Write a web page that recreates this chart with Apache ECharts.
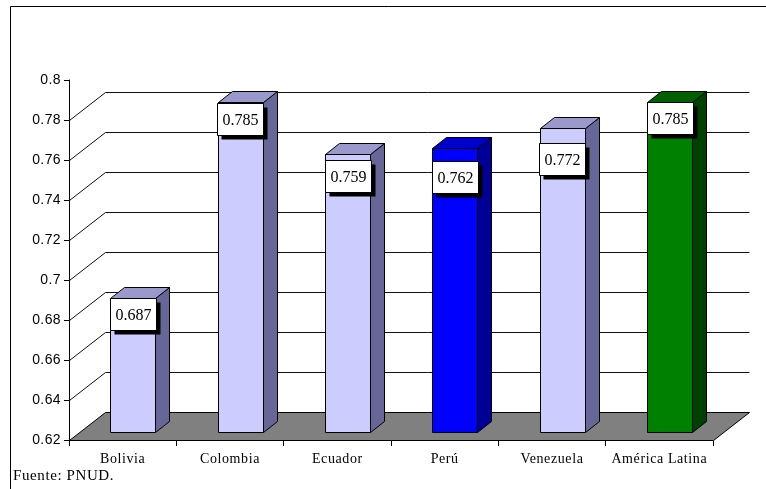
<!DOCTYPE html>
<html>
<head>
<meta charset="utf-8">
<script src="https://cdn.jsdelivr.net/npm/echarts@6/dist/echarts.min.js"></script>
<style>
  html, body { margin: 0; padding: 0; background: #fff; }
  #chart { width: 766px; height: 489px; }
</style>
</head>
<body>
<div id="chart"></div>
<script>
// ---- data ----
const categories = ['Bolivia', 'Colombia', 'Ecuador', 'Perú', 'Venezuela', 'América Latina'];
const idhValues = [0.687, 0.785, 0.759, 0.762, 0.772, 0.785];
const yTicks = [0.62, 0.64, 0.66, 0.68, 0.70, 0.72, 0.74, 0.76, 0.78, 0.80];
const sourceNote = 'Fuente: PNUD.';

// ---- text tracking: spaced serif captions, slightly spaced axis numbers ----
(function () {
  const proto = CanvasRenderingContext2D.prototype;
  const fill = proto.fillText;
  proto.fillText = function (t, x, y, m) {
    if ('letterSpacing' in this) {
      const f = this.font || '';
      let s = '0px';
      if (/Serif/.test(f)) s = /\b16px\b/.test(f) ? '0px' : '0.6px';
      else if (/\b14px\b/.test(f)) s = '0.4px';
      this.letterSpacing = s;
    }
    return m === undefined ? fill.call(this, t, x, y) : fill.call(this, t, x, y, m);
  };
})();

// ---- 3D look ----
const SERIF = "'Liberation Serif', 'Times New Roman', serif";
const SANS = "'Liberation Sans', Arial, sans-serif";
const Y_MIN = yTicks[0];
const Y_MAX = yTicks[yTicks.length - 1];
const WALL = { dx: 36, dy: 28 };          // depth of floor / back wall
const BAR_INSET = 8 / 28;                 // front face sits this far into the floor
const BAR_DEPTH = { dx: 14, dy: 11 };
const BAR_WIDTH = 0.415;                  // share of the category band
const labelNudge = [0, 1, 6, 13, 15, 0];  // label box offsets below the bar top
const BOX = { w: 46, h: 32, shadow: 4 };

const lavender = { face: '#CCCCFF', side: '#666699', top: '#9999CC' };
const blue = { face: '#0000FF', side: '#000099', top: '#0000CC' };
const green = { face: '#008000', side: '#004000', top: '#006000' };
const barColors = [lavender, lavender, lavender, blue, lavender, green];

const crisp = v => Math.round(v) + 0.5;

function renderFloor(params, api) {
  const cs = params.coordSys;
  const y = crisp(api.coord([0, Y_MIN])[1]);
  const x0 = crisp(cs.x), x1 = crisp(cs.x + cs.width);
  return {
    type: 'polygon',
    shape: { points: [[x0, y], [x1, y], [x1 + WALL.dx, y - WALL.dy], [x0 + WALL.dx, y - WALL.dy]] },
    style: { fill: '#808080', stroke: '#000', lineWidth: 1 }
  };
}

function renderWallLine(params, api) {
  const cs = params.coordSys;
  const y = crisp(api.coord([0, api.value(1)])[1]);
  const x0 = crisp(cs.x), x1 = crisp(cs.x + cs.width);
  return {
    type: 'polyline',
    shape: { points: [[x0, y], [x0 + WALL.dx, y - WALL.dy], [x1 + WALL.dx, y - WALL.dy]] },
    style: { stroke: '#111', lineWidth: 1, fill: null }
  };
}

function renderBar(params, api) {
  const i = api.value(0);
  const v = api.value(1);
  const top = api.coord([i, v]);
  const base = api.coord([i, Y_MIN]);
  const band = api.size([1, 0])[0];
  const w = Math.round(band * BAR_WIDTH);
  const ox = WALL.dx * BAR_INSET, oy = WALL.dy * BAR_INSET;
  const cx = top[0] + ox;
  const x0 = crisp(cx - w / 2), x1 = x0 + w;
  const yt = crisp(top[1] - oy), yb = crisp(base[1] - oy);
  const dx = BAR_DEPTH.dx, dy = BAR_DEPTH.dy;
  const c = barColors[i];
  const edge = { stroke: '#000', lineWidth: 1, lineJoin: 'miter' };
  const bx = crisp(cx - BOX.w / 2);
  const by = yt + labelNudge[i];
  return {
    type: 'group',
    children: [
      { type: 'polygon', shape: { points: [[x1, yt], [x1 + dx, yt - dy], [x1 + dx, yb - dy], [x1, yb]] },
        style: Object.assign({ fill: c.side }, edge) },
      { type: 'polygon', shape: { points: [[x0, yt], [x0 + dx, yt - dy], [x1 + dx, yt - dy], [x1, yt]] },
        style: Object.assign({ fill: c.top }, edge) },
      { type: 'rect', shape: { x: x0, y: yt, width: w, height: yb - yt },
        style: Object.assign({ fill: c.face }, edge) },
      { type: 'rect', shape: { x: bx + BOX.shadow, y: by + BOX.shadow, width: BOX.w, height: BOX.h },
        style: { fill: '#000' } },
      { type: 'rect', shape: { x: bx, y: by, width: BOX.w, height: BOX.h },
        style: { fill: '#fff', stroke: '#000', lineWidth: 1 } },
      { type: 'text', style: { text: v.toFixed(3), x: bx + BOX.w / 2, y: by + BOX.h / 2 + 1,
        align: 'center', verticalAlign: 'middle', fill: '#000',
        fontSize: 16, fontFamily: SERIF } }
    ]
  };
}

const chart = echarts.init(document.getElementById('chart'), null, { renderer: 'canvas' });
chart.setOption({
  animation: false,
  backgroundColor: '#fff',
  grid: { left: 69, right: 53, top: 80, bottom: 49, containLabel: false },
  graphic: [
    { type: 'rect', shape: { x: 10.5, y: 6.5, width: 1000, height: 1000 },
      style: { fill: null, stroke: '#000', lineWidth: 1 }, silent: true },
    { type: 'text', left: 13, top: 469,
      style: { text: sourceNote, fontSize: 15, fontFamily: SERIF, fill: '#000' } }
  ],
  xAxis: {
    type: 'category',
    data: categories,
    axisLine: { show: true, lineStyle: { color: '#000', width: 1 } },
    axisTick: { show: true, length: 6, interval: 0, lineStyle: { color: '#000' } },
    axisLabel: { interval: 0, margin: 12, fontSize: 14, fontFamily: SERIF, color: '#000' },
    splitLine: { show: false }
  },
  yAxis: {
    type: 'value',
    min: Y_MIN, max: Y_MAX, interval: 0.02,
    axisLine: { show: true, lineStyle: { color: '#000', width: 1 } },
    axisTick: { show: true, length: 5, lineStyle: { color: '#000' } },
    axisLabel: { margin: 8, fontSize: 14, fontFamily: SANS, color: '#000',
      formatter: v => String(+v.toFixed(2)) },
    splitLine: { show: false }
  },
  series: [
    { type: 'custom', clip: false, silent: true, renderItem: renderFloor, data: [[0, Y_MIN]], z: 1 },
    { type: 'custom', clip: false, silent: true, renderItem: renderWallLine,
      data: yTicks.filter(t => t > Y_MIN + 1e-9 && t < Y_MAX - 1e-9).map(t => [0, t]), z: 1 },
    { type: 'custom', clip: false, renderItem: renderBar,
      data: idhValues.map((v, i) => [i, v]), z: 3 }
  ]
});
</script>
</body>
</html>
